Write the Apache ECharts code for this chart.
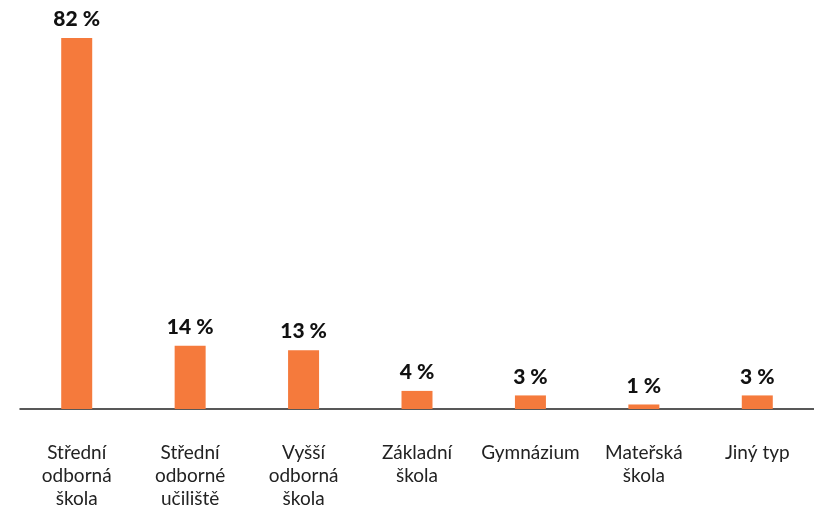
<!DOCTYPE html>
<html>
<head>
<meta charset="utf-8">
<script src="https://cdn.jsdelivr.net/npm/echarts@6/dist/echarts.min.js"></script>
<style>
  html, body { margin: 0; padding: 0; background: #fff; }
  #main { width: 814px; height: 513px; }
</style>
</head>
<body>
<div id="main"></div>
<script>
// data
var categories = ['Střední\nodborná\nškola', 'Střední\nodborné\nučiliště', 'Vyšší\nodborná\nškola', 'Základní\nškola', 'Gymnázium', 'Mateřská\nškola', 'Jiný typ'];
var values = [82, 14, 13, 4, 3, 1, 3];

var myChart = echarts.init(document.getElementById('main'));
myChart.setOption({
  animation: false,
  grid: { left: 20, right: 0, top: 38, bottom: 104 },
  xAxis: {
    type: 'category',
    data: categories,
    axisLine: { lineStyle: { color: '#222', width: 1.5 } },
    axisTick: { show: false },
    axisLabel: {
      interval: 0,
      margin: 32,
      color: '#222',
      fontFamily: 'Lato',
      fontSize: 19,
      lineHeight: 23,
      verticalAlign: 'top'
    }
  },
  yAxis: {
    type: 'value',
    min: 0,
    max: 82,
    show: false,
    splitLine: { show: false }
  },
  series: [{
    type: 'bar',
    data: values,
    barWidth: 31,
    itemStyle: { color: '#F57A3C' },
    label: {
      show: true,
      position: 'top',
      distance: 8,
      formatter: '{c} %',
      color: '#111',
      fontFamily: 'Lato',
      fontWeight: 900,
      fontSize: 21
    }
  }]
});
</script>
</body>
</html>
